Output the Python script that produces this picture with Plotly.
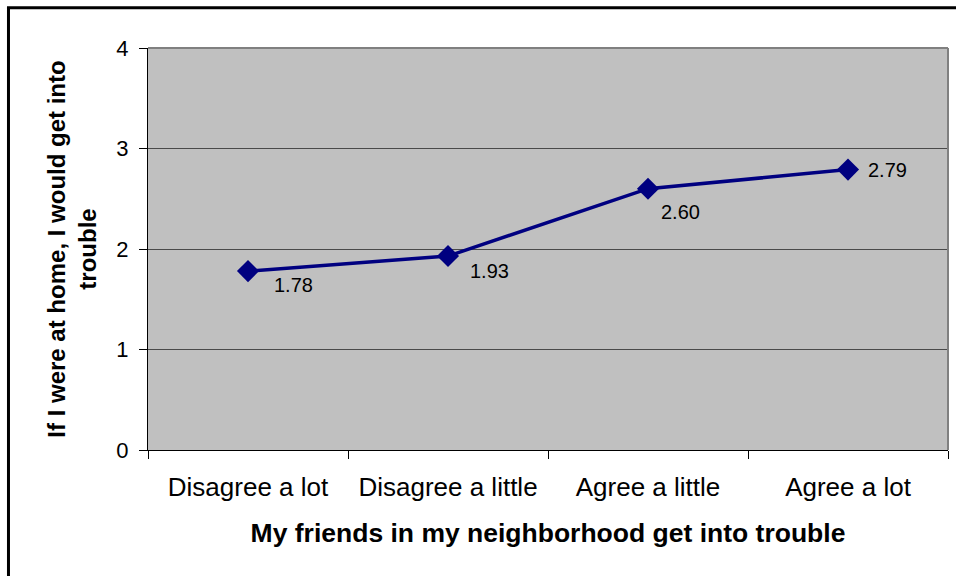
import plotly.graph_objects as go

categories = ["Disagree a lot", "Disagree a little", "Agree a little", "Agree a lot"]
values = [1.78, 1.93, 2.60, 2.79]
value_labels = ["1.78", "1.93", "2.60", "2.79"]
y_ticks = [0, 1, 2, 3, 4]

# label offsets in pixels (style)
label_dx = [24, 20, 11, 18]
label_dy = [-14, -15, -23, 0]

FONT = "Liberation Sans, Arial, sans-serif"

fig = go.Figure()
fig.add_trace(go.Scatter(
    x=categories, y=values,
    mode="lines+markers",
    line=dict(color="#000080", width=3.5),
    marker=dict(symbol="diamond", size=17, color="#000080"),
    cliponaxis=False,
    showlegend=False,
))

annotations = []
for c, v, t, dx, dy in zip(categories, values, value_labels, label_dx, label_dy):
    annotations.append(dict(
        x=c, y=v, xref="x", yref="y", text=t, showarrow=False,
        xanchor="left", yanchor="middle", xshift=dx, yshift=dy,
        font=dict(family=FONT, size=20, color="black"),
    ))

fig.update_layout(
    width=956, height=576,
    margin=dict(l=148, r=8, t=48, b=126),
    paper_bgcolor="white",
    plot_bgcolor="#C0C0C0",
    font=dict(family=FONT, color="black"),
    annotations=annotations,
    xaxis=dict(
        type="category",
        range=[-0.5, 3.5],
        tickson="boundaries",
        ticks="outside", ticklen=8, tickcolor="black", tickwidth=1,
        ticklabelstandoff=14,
        showline=True, linecolor="black", linewidth=1,
        showgrid=False,
        tickfont=dict(family=FONT, size=26, color="black"),
        title=dict(text="<b>My friends in my neighborhood get into trouble</b>",
                   font=dict(family=FONT, size=26.5, color="black"), standoff=22),
    ),
    yaxis=dict(
        range=[0, 4], tickvals=y_ticks, ticktext=[str(v) for v in y_ticks],
        ticks="outside", ticklen=8, tickcolor="black", tickwidth=1,
        ticklabelstandoff=6,
        showline=True, linecolor="black", linewidth=1,
        showgrid=True, gridcolor="#4a4a4a", gridwidth=1,
        zeroline=False,
        tickfont=dict(family=FONT, size=22, color="black"),
        title=dict(text="<b>If I were at home, I would get into<br>trouble</b>",
                   font=dict(family=FONT, size=24, color="black"), standoff=12),
    ),
    shapes=[
        dict(type="line", xref="paper", yref="paper", x0=0, x1=1, y0=1, y1=1,
             line=dict(color="#808080", width=2)),
        dict(type="line", xref="paper", yref="paper", x0=1, x1=1, y0=0, y1=1,
             line=dict(color="#808080", width=2)),
        dict(type="rect", xref="paper", yref="paper",
             x0=-0.1744, x1=1.1, y0=-0.5, y1=1.1, layer="above",
             line=dict(color="black", width=3)),
    ],
)

fig.write_html("out.html")
